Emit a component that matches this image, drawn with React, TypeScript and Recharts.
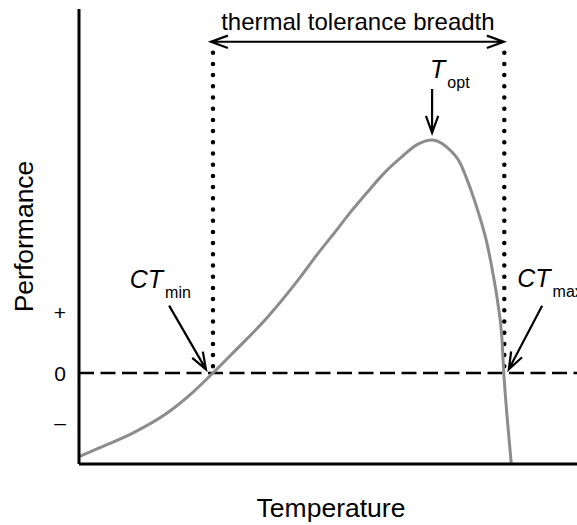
import React from 'react';
import {
  LineChart,
  Line,
  XAxis,
  YAxis,
  ReferenceLine,
  ReferenceDot,
} from 'recharts';

// ---- data (temperature units 0..100, performance units) ----
const temperature = [
  0, 4.2, 10.8, 17.7, 22.9, 26.9, 30.9, 37.8, 44.4, 47.8, 51.0, 54.4, 57.8, 61.0,
  64.5, 67.9, 70.9, 73.9, 76.5, 78.5, 80.5, 81.9, 83.1, 84.1, 84.9, 85.3, 85.9, 86.8,
];
const performance = [
  -0.92, -0.82, -0.66, -0.44, -0.21, 0, 0.22, 0.61, 1.05, 1.3, 1.52, 1.76, 1.98, 2.18,
  2.36, 2.51, 2.56, 2.48, 2.31, 2.04, 1.71, 1.43, 1.1, 0.77, 0.4, 0, -0.44, -1.0,
];

const yTickValues = [-0.54, 0, 0.66];
const yTickLabels = ['\u2013', '0', '+'];

const xDomain = [0, 100];
const yDomain = [-1, 4];

// annotation anchors (data units)
const ctMin = 26.9;
const ctMax = 85.4;
const dottedTop = 3.52;
const breadthY = 3.64;
const breadthFrom = 26.5;
const breadthTo = 85.3;
const titleText = 'thermal tolerance breadth';
const titlePos = { x: 56.0, y: 3.77 };
const toptArrow = { x: 70.9, yFrom: 3.12, yTo: 2.64 };
const toptLabel = { x: 70.5, y: 3.24 };
const ctMinArrow = [{ x: 18.1, y: 0.74 }, { x: 25.5, y: 0.04 }];
const ctMinLabel = { x: 10.2, y: 0.93 };
const ctMaxArrow = [{ x: 93.0, y: 0.74 }, { x: 86.3, y: 0.04 }];
const ctMaxLabel = { x: 88.0, y: 0.95 };

const data = temperature.map((t, i) => ({ t, p: performance[i] }));

const FONT = '"Liberation Sans", Arial, Helvetica, sans-serif';

function head(x: number, y: number, fromX: number, fromY: number) {
  const ang = Math.atan2(fromY - y, fromX - x);
  const len = 18;
  const spread = (20 * Math.PI) / 180;
  const a1 = ang + spread;
  const a2 = ang - spread;
  return `M${x + len * Math.cos(a1)},${y + len * Math.sin(a1)} L${x},${y} L${x + len * Math.cos(a2)},${y + len * Math.sin(a2)}`;
}

const arrowShape = (double: boolean) => (props: any) => {
  const { x1, y1, x2, y2 } = props;
  let d = `M${x1},${y1} L${x2},${y2} ` + head(x2, y2, x1, y1);
  if (double) d += ' ' + head(x1, y1, x2, y2);
  return <path d={d} fill="none" stroke="#000" strokeWidth={2.2} strokeLinejoin="miter" />;
};

const dottedShape = (props: any) => {
  const { x1, y1, x2, y2 } = props;
  const top = Math.min(y1, y2);
  const bottom = Math.max(y1, y2);
  return (
    <line
      x1={x1}
      y1={top}
      x2={x2}
      y2={bottom}
      stroke="#000"
      strokeWidth={4.5}
      strokeLinecap="round"
      strokeDasharray="0 11.2"
    />
  );
};

const textShape =
  (main: string, sub: string | null, opts: { size: number; italic?: boolean; anchor?: string; subSize?: number; subDy?: number }) =>
  (props: any) => {
    const { cx, cy } = props;
    return (
      <text
        x={cx}
        y={cy}
        fontFamily={FONT}
        fontSize={opts.size}
        textAnchor={opts.anchor || 'start'}
        fill="#000"
      >
        <tspan fontStyle={opts.italic ? 'italic' : 'normal'}>{main}</tspan>
        {sub ? (
          <tspan fontSize={opts.subSize || 16} dx={2} dy={opts.subDy || 10}>
            {sub}
          </tspan>
        ) : null}
      </text>
    );
  };

const YTick = (props: any) => {
  const { y, payload } = props;
  const idx = yTickValues.indexOf(payload.value);
  return (
    <text x={60} y={y} textAnchor="middle" dominantBaseline="central" fontFamily={FONT} fontSize={21} fill="#000">
      {idx >= 0 ? yTickLabels[idx] : ''}
    </text>
  );
};

export default function App() {
  return (
    <div style={{ position: 'absolute', left: 0, top: 0, width: 577, height: 525, background: '#fff' }}>
      <LineChart width={577} height={525} data={data} margin={{ top: 9, right: 0, bottom: 0, left: 0 }}>
        <XAxis
          dataKey="t"
          type="number"
          domain={xDomain}
          tick={false}
          tickLine={false}
          height={61}
          axisLine={{ stroke: '#000', strokeWidth: 3 }}
          label={{
            content: (p: any) => {
              const vb = p.viewBox || { x: 79, y: 464, width: 498 };
              return (
                <text
                  x={vb.x + vb.width / 2 + 3}
                  y={vb.y + 53}
                  textAnchor="middle"
                  fontFamily={FONT}
                  fontSize={26.5}
                  fill="#000"
                >
                  Temperature
                </text>
              );
            },
          }}
        />
        <YAxis
          type="number"
          domain={yDomain}
          ticks={yTickValues}
          interval={0}
          width={79}
          tickLine={false}
          tick={<YTick />}
          axisLine={{ stroke: '#000', strokeWidth: 3 }}
          label={{
            content: (p: any) => {
              const vb = p.viewBox || { x: 0, y: 9, width: 79, height: 455 };
              const cx = vb.x + 33;
              const cy = vb.y + vb.height / 2;
              return (
                <text
                  x={cx}
                  y={cy}
                  transform={`rotate(-90 ${cx} ${cy})`}
                  textAnchor="middle"
                  fontFamily={FONT}
                  fontSize={26.5}
                  fill="#000"
                >
                  Performance
                </text>
              );
            },
          }}
        />
        <ReferenceLine y={0} stroke="#000" strokeWidth={2.5} strokeDasharray="15 6.5" />
        <ReferenceLine segment={[{ x: ctMin, y: dottedTop }, { x: ctMin, y: 0 }]} shape={dottedShape} />
        <ReferenceLine segment={[{ x: ctMax, y: dottedTop }, { x: ctMax, y: 0 }]} shape={dottedShape} />
        <ReferenceLine
          segment={[{ x: breadthFrom, y: breadthY }, { x: breadthTo, y: breadthY }]}
          shape={arrowShape(true)}
        />
        <ReferenceLine
          segment={[{ x: toptArrow.x, y: toptArrow.yFrom }, { x: toptArrow.x, y: toptArrow.yTo }]}
          shape={arrowShape(false)}
        />
        <ReferenceLine segment={ctMinArrow} shape={arrowShape(false)} />
        <ReferenceLine segment={ctMaxArrow} shape={arrowShape(false)} />
        <Line
          type="monotone"
          dataKey="p"
          stroke="#8c8c8c"
          strokeWidth={3}
          dot={false}
          activeDot={false}
          isAnimationActive={false}
        />
        <ReferenceDot
          x={titlePos.x}
          y={titlePos.y}
          r={0}
          ifOverflow="visible"
          shape={textShape(titleText, null, { size: 24, anchor: 'middle' })}
        />
        <ReferenceDot
          x={toptLabel.x}
          y={toptLabel.y}
          r={0}
          ifOverflow="visible"
          shape={textShape('T', 'opt', { size: 25, italic: true, subSize: 16, subDy: 10 })}
        />
        <ReferenceDot
          x={ctMinLabel.x}
          y={ctMinLabel.y}
          r={0}
          ifOverflow="visible"
          shape={textShape('CT', 'min', { size: 25, italic: true, subSize: 16, subDy: 10 })}
        />
        <ReferenceDot
          x={ctMaxLabel.x}
          y={ctMaxLabel.y}
          r={0}
          ifOverflow="visible"
          shape={textShape('CT', 'max', { size: 25, italic: true, subSize: 16, subDy: 10 })}
        />
      </LineChart>
    </div>
  );
}
